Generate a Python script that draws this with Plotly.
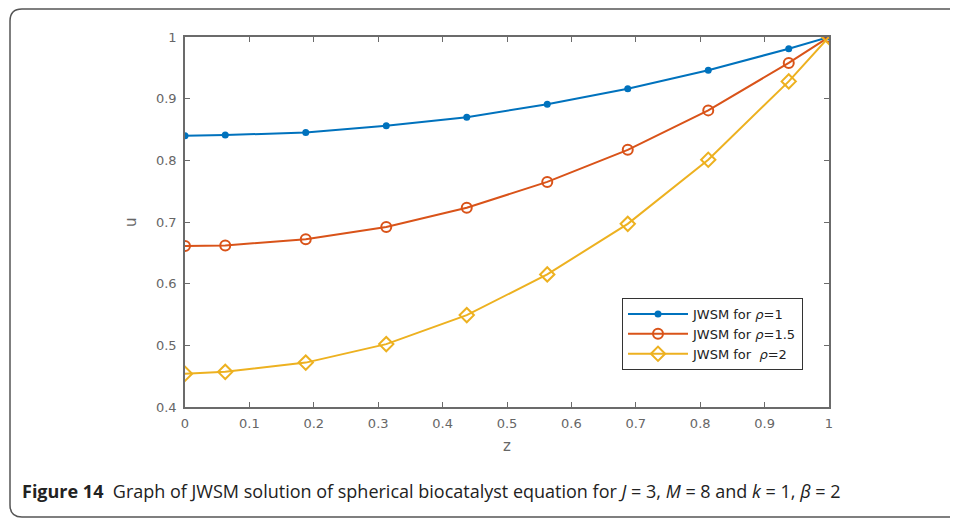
import plotly.graph_objects as go

z = [0, 0.0625, 0.1875, 0.3125, 0.4375, 0.5625, 0.6875, 0.8125, 0.9375, 1.0]
u_rho1 = [0.840, 0.841, 0.845, 0.856, 0.870, 0.891, 0.916, 0.946, 0.981, 1.0]
u_rho15 = [0.661, 0.662, 0.672, 0.692, 0.723, 0.765, 0.817, 0.881, 0.958, 1.0]
u_rho2 = [0.454, 0.457, 0.472, 0.502, 0.549, 0.615, 0.697, 0.801, 0.928, 1.0]
x_ticks = [0, 0.1, 0.2, 0.3, 0.4, 0.5, 0.6, 0.7, 0.8, 0.9, 1]
x_tick_labels = ["0", "0.1", "0.2", "0.3", "0.4", "0.5", "0.6", "0.7", "0.8", "0.9", "1"]
y_ticks = [0.4, 0.5, 0.6, 0.7, 0.8, 0.9, 1]
y_tick_labels = ["0.4", "0.5", "0.6", "0.7", "0.8", "0.9", "1"]
names = ["JWSM for <i>ρ</i>=1", "JWSM for <i>ρ</i>=1.5", "JWSM for \u00a0<i>ρ</i>=2"]

# page is offset by the 8px body margin
OFF = 8
W, H = 958 - OFF, 518 - OFF
PL, PR, PT, PB = 185, 829, 37, 407          # plot area in page pixels
L, R, T, B = PL - OFF, (958 - PR), PT - OFF, (518 - PB)
pw, ph = PR - PL, PB - PT

def px(x):
    return (x - PL) / pw

def py(y):
    return (PB - y) / ph

fig = go.Figure()
fig.add_trace(go.Scatter(x=z, y=u_rho1, mode="lines+markers", name=names[0],
                         line=dict(color="#0072BD", width=2),
                         marker=dict(symbol="circle", size=7, color="#0072BD")))
fig.add_trace(go.Scatter(x=z, y=u_rho15, mode="lines+markers", name=names[1],
                         line=dict(color="#D95319", width=2),
                         marker=dict(symbol="circle-open", size=10, color="#D95319",
                                     line=dict(width=2))))
fig.add_trace(go.Scatter(x=z, y=u_rho2, mode="lines+markers", name=names[2],
                         line=dict(color="#EDB120", width=2),
                         marker=dict(symbol="diamond-open", size=11, color="#EDB120",
                                     line=dict(width=2))))

tick_font = dict(family="DejaVu Sans", size=13, color="#666")
axis_common = dict(showgrid=False, zeroline=False, showline=True, linecolor="#6b6b6b",
                   linewidth=1.5, mirror="ticks", ticks="inside", ticklen=5,
                   tickcolor="#6b6b6b", tickfont=tick_font)

fig.update_xaxes(range=[0, 1], tickvals=x_ticks, ticktext=x_tick_labels, ticklabelstandoff=4,
                 **axis_common)
fig.update_yaxes(range=[0.4, 1], tickvals=y_ticks, ticktext=y_tick_labels, ticklabelstandoff=4,
                 **axis_common)

fig.add_annotation(x=px(507), y=py(446), xref="paper", yref="paper", showarrow=False,
                   xanchor="center", yanchor="middle",
                   text="z", font=dict(family="DejaVu Sans", size=15, color="#666"))
fig.add_annotation(x=px(131), y=py(222), xref="paper", yref="paper", showarrow=False,
                   xanchor="center", yanchor="middle",
                   text="u", textangle=-90, font=dict(family="DejaVu Sans", size=15, color="#666"))

r = 12
x0, y0, x1, y1 = 10, 9, 975, 517
path = (f"M {px(x0)},{py(y1 - r)} L {px(x0)},{py(y0 + r)} "
        f"Q {px(x0)},{py(y0)} {px(x0 + r)},{py(y0)} L {px(x1)},{py(y0)} "
        f"M {px(x0)},{py(y1 - r)} Q {px(x0)},{py(y1)} {px(x0 + r)},{py(y1)} L {px(x1)},{py(y1)}")
fig.add_shape(type="path", path=path, xref="paper", yref="paper",
              line=dict(color="#555", width=1.5), layer="below")

fig.add_annotation(x=px(20), y=py(491), xref="paper", yref="paper", xanchor="left", yanchor="middle",
                   showarrow=False,
                   text="<b>Figure 14</b>\u00a0 Graph of JWSM solution of spherical biocatalyst equation for "
                        "<i>J</i> = 3, <i>M</i> = 8 and <i>k</i> = 1, <i>β</i> = 2",
                   font=dict(family="Open Sans", size=18, color="#222"))

fig.update_layout(
    width=W, height=H,
    margin=dict(l=L, r=R, t=T, b=B),
    paper_bgcolor="white", plot_bgcolor="white",
    showlegend=True,
    legend=dict(x=px(803), y=py(298), xanchor="right", yanchor="top",
                bgcolor="white", bordercolor="#333", borderwidth=1,
                font=dict(family="DejaVu Sans", size=13, color="#222"),
                tracegroupgap=0, itemwidth=60),
)

fig.write_html("out.html")
